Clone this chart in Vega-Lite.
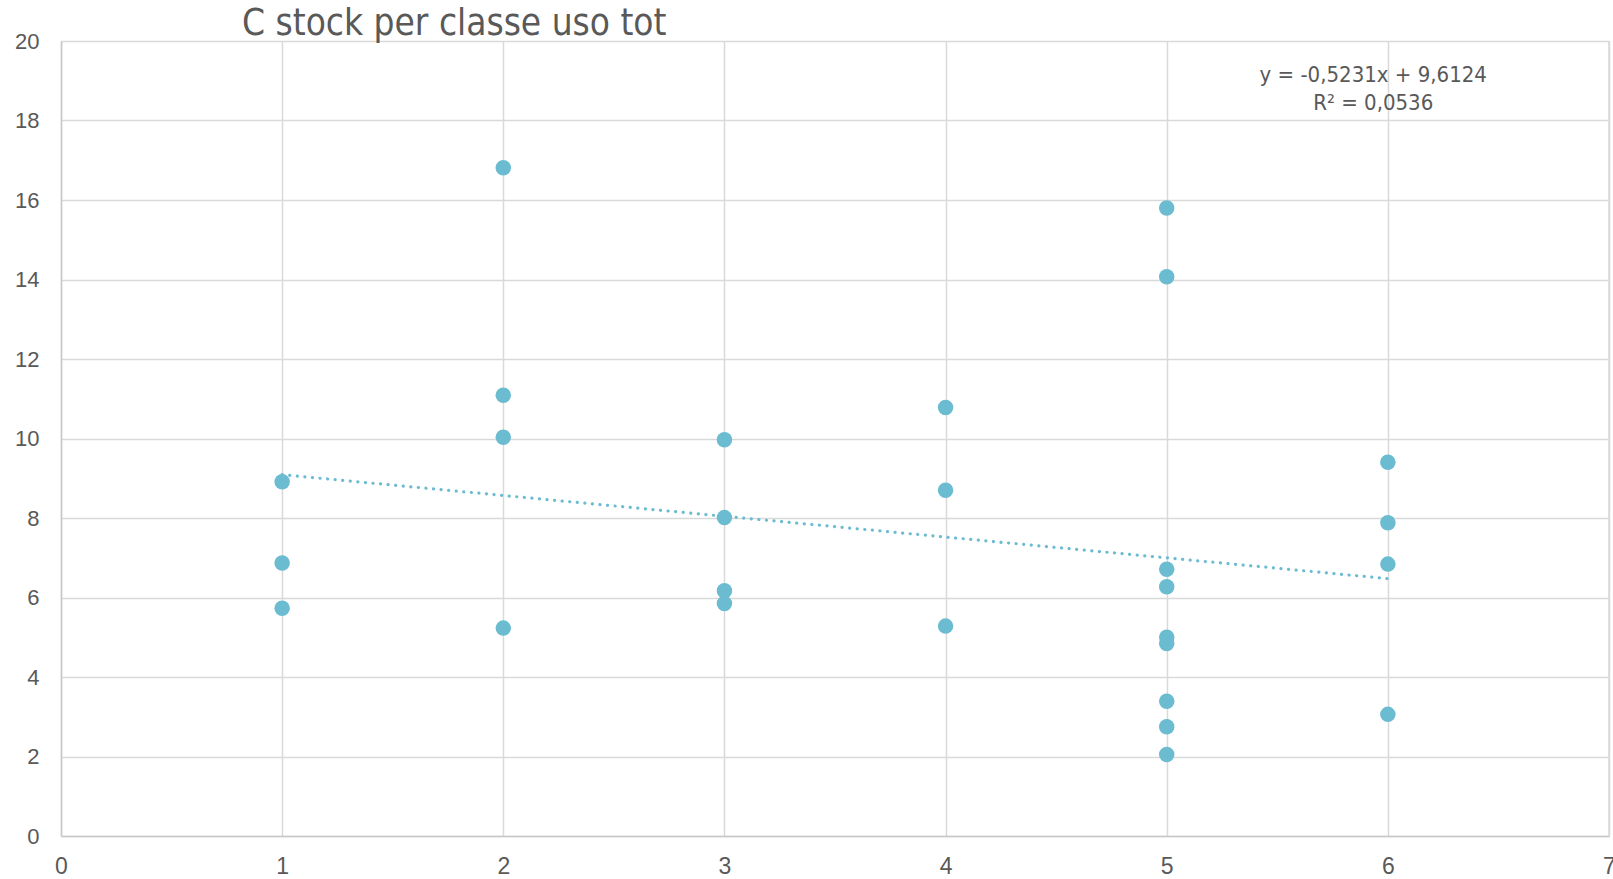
{
  "$schema": "https://vega.github.io/schema/vega-lite/v6.json",
  "width": 1548,
  "height": 795,
  "autosize": {"type": "none"},
  "padding": {"left": 61, "top": 41, "right": 4, "bottom": 43},
  "background": "white",
  "title": {
    "text": "C stock per classe uso tot",
    "anchor": "start",
    "frame": "group",
    "dx": 181,
    "dy": 50,
    "offset": 0,
    "baseline": "bottom",
    "font": "DejaVu Sans Condensed",
    "fontSize": 36.7,
    "fontWeight": "normal",
    "color": "#595959"
  },
  "config": {
    "view": {"stroke": null},
    "axis": {
      "labelFont": "Liberation Sans",
      "labelFontSize": 22,
      "labelColor": "#595959",
      "labelFlush": false,
      "gridColor": "#D9D9D9",
      "gridWidth": 1.5,
      "domainColor": "#C8C8C8",
      "domainWidth": 1.5,
      "ticks": false,
      "title": null
    }
  },
  "datasets": {
    "points": [
      {"classe": 1, "stock": 8.91},
      {"classe": 1, "stock": 6.87},
      {"classe": 1, "stock": 5.73},
      {"classe": 2, "stock": 16.81},
      {"classe": 2, "stock": 11.09},
      {"classe": 2, "stock": 10.03},
      {"classe": 2, "stock": 5.23},
      {"classe": 3, "stock": 9.97},
      {"classe": 3, "stock": 8.01},
      {"classe": 3, "stock": 6.17},
      {"classe": 3, "stock": 5.85},
      {"classe": 4, "stock": 10.78},
      {"classe": 4, "stock": 8.7},
      {"classe": 4, "stock": 5.28},
      {"classe": 5, "stock": 15.8},
      {"classe": 5, "stock": 14.07},
      {"classe": 5, "stock": 6.71},
      {"classe": 5, "stock": 6.27},
      {"classe": 5, "stock": 5.0},
      {"classe": 5, "stock": 4.84},
      {"classe": 5, "stock": 3.39},
      {"classe": 5, "stock": 2.75},
      {"classe": 5, "stock": 2.05},
      {"classe": 6, "stock": 9.4},
      {"classe": 6, "stock": 7.88},
      {"classe": 6, "stock": 6.84},
      {"classe": 6, "stock": 3.06}
    ],
    "trend": [
      {"classe": 1, "stock": 9.0893},
      {"classe": 6, "stock": 6.4738}
    ]
  },
  "layer": [
    {
      "data": {"name": "points"},
      "mark": {"type": "point", "filled": true, "shape": "circle", "size": 240, "color": "#6BBCD1", "opacity": 1},
      "encoding": {
        "x": {
          "field": "classe",
          "type": "quantitative",
          "scale": {"domain": [0, 7], "nice": false},
          "axis": {"values": [0, 1, 2, 3, 4, 5, 6, 7], "labelPadding": 19, "labelFontSize": 23, "format": "d", "grid": true}
        },
        "y": {
          "field": "stock",
          "type": "quantitative",
          "scale": {"domain": [0, 20], "nice": false},
          "axis": {"values": [0, 2, 4, 6, 8, 10, 12, 14, 16, 18, 20], "labelPadding": 22, "format": "d", "grid": true}
        }
      }
    },
    {
      "data": {"name": "trend"},
      "mark": {"type": "line", "color": "#6BBCD1", "strokeWidth": 3.2, "strokeDash": [0.1, 7.5], "strokeCap": "round"},
      "encoding": {
        "x": {"field": "classe", "type": "quantitative"},
        "y": {"field": "stock", "type": "quantitative"}
      }
    },
    {
      "data": {"values": [{}]},
      "mark": {
        "type": "text",
        "text": ["y = -0,5231x + 9,6124", "R² = 0,0536"],
        "align": "center",
        "baseline": "alphabetic",
        "lineHeight": 28,
        "font": "DejaVu Sans Condensed",
        "fontSize": 22,
        "color": "#595959"
      },
      "encoding": {
        "x": {"datum": 5.934, "type": "quantitative"},
        "y": {"datum": 18.97, "type": "quantitative"}
      }
    },
    {
      "data": {"values": [{}]},
      "mark": {"type": "rule", "color": "#D9D9D9", "strokeWidth": 1.5},
      "encoding": {
        "x": {"datum": 7, "type": "quantitative"}
      }
    }
  ]
}
